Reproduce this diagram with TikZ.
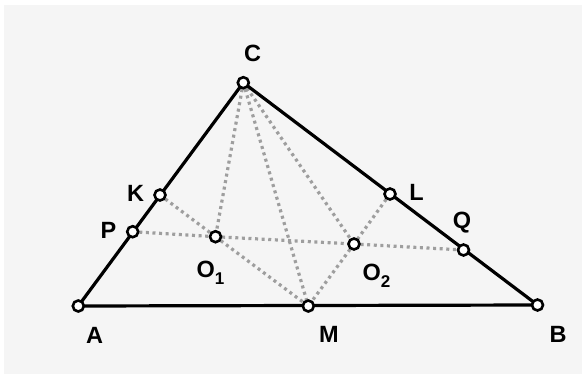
\documentclass[tikz,border=0pt]{standalone}
\usepackage{fontspec}
\setmainfont{Liberation Sans}
\begin{document}
\begin{tikzpicture}[x=1pt,y=-1pt,
  side/.style={line width=3.2pt,black},
  dotline/.style={line width=3.2pt,color=black!38,dash pattern=on 3pt off 3.6pt},
  pt/.style={circle,draw=black,fill=white,line width=2.6pt,minimum size=11pt,inner sep=0pt},
  lab/.style={inner sep=0pt,font=\fontsize{23.5}{23.5}\selectfont\bfseries}]
\useasboundingbox (0,0) rectangle (585,377);
\fill[white] (0,0) rectangle (585,377);
\fill[black!4] (4,5) rectangle (582,374);
% points
\coordinate (A) at (78.3,306);
\coordinate (B) at (537.5,305);
\coordinate (C) at (243.3,82.7);
\coordinate (M) at (308.3,306);
\coordinate (K) at (160,195);
\coordinate (P) at (132.7,231.7);
\coordinate (L) at (390,194);
\coordinate (Q) at (463.5,250);
\coordinate (O1) at (215.5,236.7);
\coordinate (O2) at (354,244);
% dotted lines
\draw[dotline] (C) -- (O1);
\draw[dotline] (C) -- (M);
\draw[dotline] (C) -- (O2);
\draw[dotline] (K) -- (O1);
\draw[dotline] (O1) -- (M);
\draw[dotline] (L) -- (O2);
\draw[dotline] (O2) -- (M);
\draw[dotline] (P) -- (O1);
\draw[dotline] (O1) -- (O2);
\draw[dotline] (O2) -- (Q);
% triangle
\draw[side,line join=round] (A) -- (B) -- (C) -- cycle;
% point circles
\foreach \p in {A,B,C,M,K,P,L,Q,O1,O2}
  \node[pt] (n\p) at (\p) {};
% labels
\node[lab] (lC) at (252.5,53.5) {C};
\node[lab] (lK) at (135.5,193.5) {K};
\node[lab] (lP) at (108.5,230) {P};
\node[lab] (lL) at (416.5,192.5) {L};
\node[lab,anchor=north] (lQ) at (462,211.5) {Q};
\node[lab] (lA) at (94.5,335) {A};
\node[lab] (lM) at (329,334) {M};
\node[lab] (lB) at (558,334) {B};
\node[lab,anchor=base west] (lO1) at (196.5,277) {O\raisebox{-7pt}{\fontsize{17}{17}\selectfont 1}};
\node[lab,anchor=base west] (lO2) at (362.5,280) {O\raisebox{-7pt}{\fontsize{17}{17}\selectfont 2}};
\end{tikzpicture}
\end{document}
